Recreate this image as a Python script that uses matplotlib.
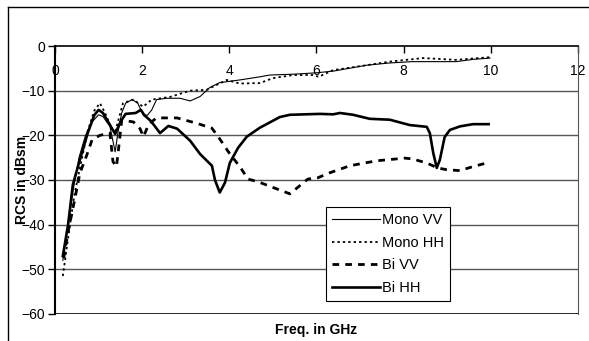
import numpy as np
import matplotlib
matplotlib.use("Agg")
import matplotlib.pyplot as plt
from matplotlib.lines import Line2D

plt.rcParams['font.family'] = ['Liberation Sans', 'DejaVu Sans']

# frequency (GHz) / RCS (dBsm)
mono_vv_f = [0.18, 0.3, 0.42, 0.55, 0.7, 0.85, 1.0, 1.1, 1.26, 1.38, 1.45, 1.53, 1.62, 1.77, 1.9,
             2.02, 2.12, 2.22, 2.33, 2.56, 2.87, 3.1, 3.33, 3.55, 3.78, 4.24, 4.7, 4.93, 5.5, 6.0,
             6.4, 7.15, 7.68, 8.2, 8.6, 9.2, 9.59, 9.98]
mono_vv = [-48, -40, -32, -25, -20, -17, -15.4, -15.8, -18, -23.7, -19, -15, -12.8, -12, -12.8,
           -15.4, -15.5, -14.3, -12, -11.7, -11.7, -12.3, -11.3, -9.3, -8.2, -7.6, -6.9, -6.5, -6.3, -6.0,
           -5.6, -4.3, -3.8, -3.5, -3.5, -3.5, -3.0, -2.7]

mono_hh_f = [0.18, 0.3, 0.45, 0.6, 0.75, 0.9, 1.03, 1.15, 1.3, 1.38, 1.47, 1.56, 1.8, 2.02, 2.22,
             2.64, 3.1, 3.48, 3.94, 4.24, 4.7, 5.0, 5.46, 5.92, 6.05, 6.38, 7.15, 7.68, 8.45, 9.2, 9.98]
mono_hh = [-51.5, -43, -33, -26, -19, -14.5, -12.8, -15, -18.5, -19.2, -16, -12.8, -12, -13.6, -12,
           -11.4, -10, -9.8, -7.6, -8.4, -8.3, -7.2, -6.5, -6.5, -6.9, -5.4, -4.3, -3.5, -2.7, -3.1, -2.5]

bi_vv_f = [0.2, 0.3, 0.46, 0.57, 0.73, 0.85, 1.03, 1.26, 1.33, 1.41, 1.47, 1.53, 1.8, 1.95, 2.03,
           2.15, 2.33, 2.8, 3.25, 3.6, 3.78, 4.0, 4.24, 4.43, 4.66, 5.09, 5.39, 5.8, 6.03, 6.3,
           6.77, 7.38, 8.03, 8.21, 8.53, 8.78, 8.99, 9.29, 9.59, 9.9]
bi_vv = [-47.5, -41.6, -34, -28.5, -24.4, -21, -20, -19.5, -25.9, -27, -22, -16.6, -17, -18.5, -20.3,
         -17.5, -16.1, -16.1, -17.3, -18.4, -20.8, -24, -27, -29.8, -30.4, -32, -33.1, -29.8, -29.5, -28.4,
         -26.8, -25.7, -25.1, -25.3, -26.2, -27.3, -27.7, -27.9, -27, -26.2]

bi_hh_f = [0.18, 0.3, 0.41, 0.57, 0.75, 0.9, 1.0, 1.1, 1.25, 1.38, 1.5, 1.62, 1.85, 1.97, 2.05,
           2.2, 2.41, 2.6, 2.8, 3.1, 3.33, 3.6, 3.67, 3.78, 3.9, 4.01, 4.2, 4.4, 4.7, 5.16,
           5.39, 6.08, 6.38, 6.54, 6.84, 7.22, 7.68, 8.14, 8.53, 8.6, 8.68, 8.76, 8.83, 8.94, 9.06,
           9.29, 9.59, 9.95]
bi_hh = [-47, -40, -31, -25.5, -19.5, -15.5, -14.3, -15, -17.5, -19.7, -17, -15.2, -15, -14.3, -15.5,
         -16.8, -19.5, -17.9, -18.5, -21.2, -24.2, -26.8, -30, -32.8, -30.6, -26.2, -22.8, -20.3, -18.3, -15.9,
         -15.4, -15.2, -15.3, -15, -15.4, -16.3, -16.5, -17.7, -18.1, -19.5, -24, -27.3, -25.5, -20.4, -18.8,
         -18, -17.5, -17.5]

xticks = [0, 2, 4, 6, 8, 10, 12]
yticks = [0, -10, -20, -30, -40, -50, -60]

fig = plt.figure(figsize=(5.89, 3.41), dpi=100)
ax = fig.add_axes([0.0934, 0.0792, 0.8879, 0.7859])

# gridlines
for y in yticks[1:-1]:
    ax.axhline(y, color='#555555', lw=1.0, zorder=1)
ax.axhline(-60, color='black', lw=1.2, zorder=1)

ax.plot(mono_vv_f, mono_vv, color='black', lw=0.8, label='Mono VV', zorder=3)
ax.plot(mono_hh_f, mono_hh, color='black', lw=1.3, linestyle=(0, (1.3, 1.7)), label='Mono HH', zorder=3)
ax.plot(bi_vv_f, bi_vv, color='black', lw=2.0, linestyle=(0, (2.4, 2.2)), label='Bi VV', zorder=3)
ax.plot(bi_hh_f, bi_hh, color='black', lw=1.9, label='Bi HH', zorder=3)

ax.set_xlim(0, 12)
ax.set_ylim(-60, 0)
ax.set_xticks(xticks)
ax.set_yticks(yticks)

ax.spines['top'].set_visible(False)
ax.spines['bottom'].set_position(('data', 0))
ax.spines['bottom'].set_linewidth(1.2)
ax.spines['left'].set_linewidth(1.5)
ax.spines['right'].set_color('#555555')
ax.tick_params(axis='x', direction='out', length=5, width=1, pad=8, labelsize=10)
ax.tick_params(axis='y', direction='out', length=5, width=1, pad=2, labelsize=10)
ax.set_facecolor('white')

leg = ax.legend(loc='lower left', bbox_to_anchor=(0.518, 0.0485), fontsize=10.5,
                frameon=True, fancybox=False, framealpha=1, edgecolor='black',
                handlelength=3.3, handletextpad=0.15, labelspacing=0.6,
                borderpad=0.4, borderaxespad=0)
leg.get_frame().set_linewidth(0.8)

fig.text(0.5365, 0.0323, 'Freq. in GHz', ha='center', va='center', fontsize=10, fontweight='bold')
fig.text(0.0374, 0.472, 'RCS in dBsm', ha='center', va='center', rotation=90,
         fontsize=10, fontweight='bold')

# outer chart border
fig.add_artist(Line2D([0.0136, 0.0136], [0, 0.9795], color='black', lw=1))
fig.add_artist(Line2D([0.0136, 1.0], [0.9795, 0.9795], color='black', lw=1))

fig.savefig('out.png', dpi=100)
